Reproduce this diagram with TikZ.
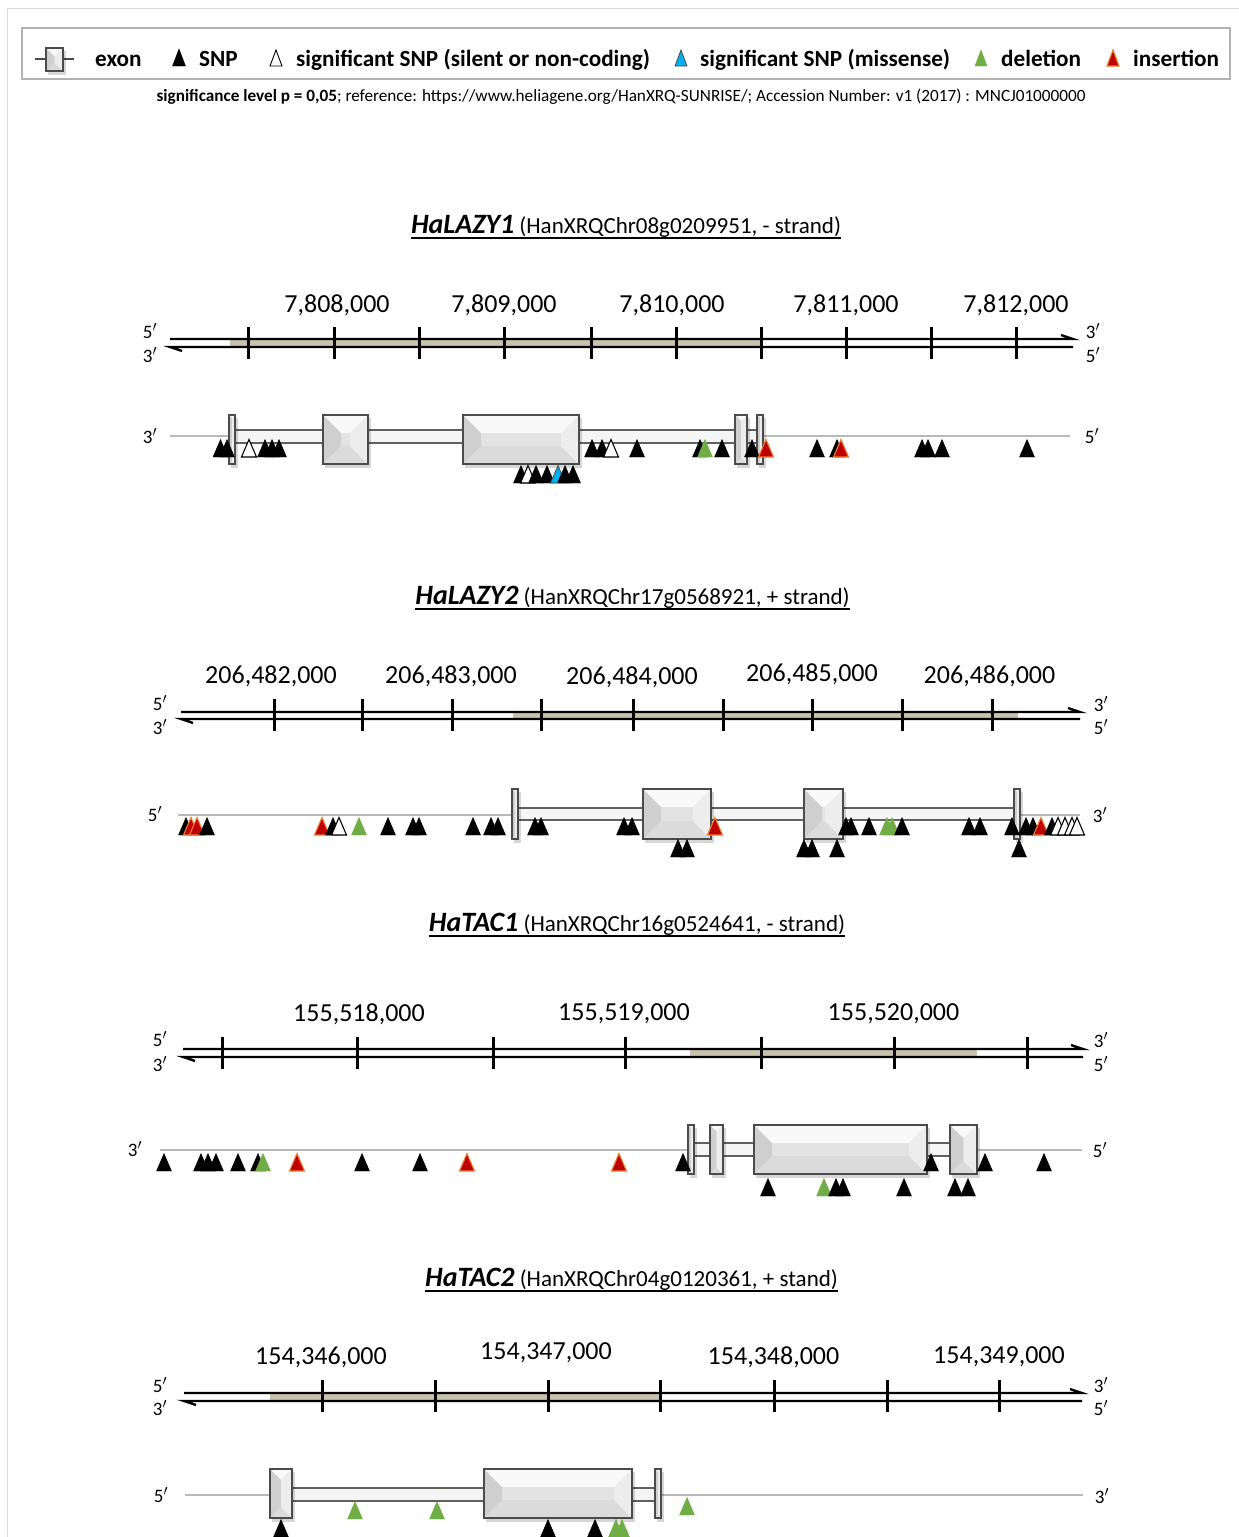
\documentclass[tikz,border=0pt]{standalone}
\usepackage{fontspec}
\setmainfont{Carlito}
\usetikzlibrary{calc}

\definecolor{beige}{RGB}{200,195,172}
\definecolor{delgreen}{RGB}{112,173,71}
\definecolor{insred}{RGB}{192,0,0}
\definecolor{insedge}{RGB}{237,125,49}
\definecolor{misblue}{RGB}{0,176,240}
\definecolor{exedge}{RGB}{75,75,75}

% one variant marker: centre x, base y, style
\newcommand\mutmark[3]{\filldraw[#3] ({#1-7.5},#2) -- ({#1+7.5},#2) -- (#1,{#2-17.5}) -- cycle;}

% bevelled exon box: x1 x2 ytop ybottom
\newcommand\exonbox[4]{%
  \pgfmathsetmacro\bv{min(18,(#2-#1)/2,(#4-#3)/2)}%
  \fill[black,opacity=0.16] ({#1+2},{#3+3}) rectangle ({#2+2.5},{#4+3.5});
  \fill[exmid] (#1,#3) rectangle (#2,#4);
  \fill[extop] (#1,#3) -- (#2,#3) -- ({#2-\bv},{#3+\bv}) -- ({#1+\bv},{#3+\bv}) -- cycle;
  \fill[exleft] (#1,#3) -- ({#1+\bv},{#3+\bv}) -- ({#1+\bv},{#4-\bv}) -- (#1,#4) -- cycle;
  \fill[exbot] (#1,#4) -- ({#1+\bv},{#4-\bv}) -- ({#2-\bv},{#4-\bv}) -- (#2,#4) -- cycle;
  \fill[exright] (#2,#3) -- ({#2-\bv},{#3+\bv}) -- ({#2-\bv},{#4-\bv}) -- (#2,#4) -- cycle;
  \draw[exline] (#1,#3) rectangle (#2,#4);
}

% double strand with harpoon ends: xl xr ytop ybottom beige-from beige-to
\newcommand\dnabar[6]{%
  \fill[beige] (#5,#3) rectangle (#6,#4);
  \draw[strand] (#1,#3) -- (#2,#3) -- ({#2-12},{#3-4});
  \draw[strand] (#2,#4) -- (#1,#4) -- ({#1+12},{#4+4});
}

\begin{document}
\begin{tikzpicture}[x=1pt,y=-1pt,
  snpB/.style={fill=black,draw=black,line width=0.4pt},
  snpW/.style={fill=white,draw=black,line width=1.1pt},
  snpG/.style={fill=delgreen,draw=delgreen,line width=0.4pt},
  snpR/.style={fill=insred,draw=insedge,line width=1.1pt},
  snpBl/.style={fill=misblue,draw=black!70,line width=0.8pt},
  exmid/.style={fill=gray!22},
  extop/.style={fill=gray!5},
  exleft/.style={fill=gray!38},
  exbot/.style={fill=gray!28},
  exright/.style={fill=gray!14},
  exline/.style={draw=exedge,line width=1.5pt},
  intron/.style={fill=gray!8,draw=gray!75!black,line width=1.1pt},
  backbone/.style={draw=gray!55,line width=1.3pt},
  strand/.style={draw=black,line width=2.3pt},
  tick/.style={draw=black,line width=3pt},
  num/.style={inner sep=0,font=\fontsize{26}{30}\selectfont},
  endlbl/.style={inner sep=0,font=\fontsize{19}{22}\selectfont},
  legtxt/.style={inner sep=0,anchor=base west,font=\fontsize{23.2}{26}\selectfont\bfseries},
  title/.style={inner sep=0,anchor=base},
  uline/.style={draw=black,line width=1.3pt}
]
\useasboundingbox (0,0) rectangle (1239,1537);
\clip (0,0) rectangle (1239,1537);

% page edges
\draw[gray!30,line width=1pt] (7,1537) -- (7,8) -- (1239,8);

% ---------------- legend ----------------
\draw[gray!60,line width=1.2pt] (22,28) rectangle (1230,79);
\draw[exedge,line width=1.2pt] (35,59) -- (74,59);
\exonbox{46}{63}{48}{71}
\filldraw[snpB] (172.5,66) -- (185.5,66) -- (179,49) -- cycle;
\node[legtxt] (lexon) at (95,66) {exon};
\node[legtxt] (lsnp) at (199,66) {SNP};
\filldraw[snpW,line width=0.9pt] (270,66) -- (282,66) -- (276,50) -- cycle;
\node[legtxt] (lsig) at (296,66) {significant SNP (silent or non-coding)};
\filldraw[snpBl] (675,66) -- (687,66) -- (681,50) -- cycle;
\node[legtxt] (lmis) at (700,66) {significant SNP (missense)};
\filldraw[snpG] (975,66) -- (987,66) -- (981,50) -- cycle;
\node[legtxt] (ldel) at (1001,66) {deletion};
\filldraw[snpR] (1107,66) -- (1119,66) -- (1113,50) -- cycle;
\node[legtxt] (lins) at (1133,66) {insertion};
\node[inner sep=0,anchor=base,font=\fontsize{17.2}{20}\selectfont] (sig) at (621,101)
  {\textbf{significance level p = 0,05}; reference: https://www.heliagene.org/HanXRQ-SUNRISE/; Accession Number: v1 (2017) : MNCJ01000000};

% ---------------- HaLAZY1 ----------------
\node[title] (t1) at (626,233) {\fontsize{28}{30}\selectfont\bfseries\itshape HaLAZY1\fontsize{23}{26}\selectfont\mdseries\upshape\ (HanXRQChr08g0209951, - strand)};
\draw[uline] ([yshift=-5pt]t1.base west) -- ([yshift=-5pt]t1.base east);

\dnabar{170}{1073}{339}{347}{230}{761}
\foreach \t in {248,334,419,504,591,676,761,846,931,1016} {\draw[tick] (\t,327) -- (\t,359);}
\foreach \x/\v [count=\i] in {337/{7,808,000},504/{7,809,000},672/{7,810,000},846/{7,811,000},1016/{7,812,000}}
  {\node[num] (a\i) at (\x,305) {\v};}
\node[endlbl] (a5l) at (150,331) {5$'$};
\node[endlbl] (a3l) at (150,355) {3$'$};
\node[endlbl] (a3r) at (1093,331) {3$'$};
\node[endlbl] (a5r) at (1093,355) {5$'$};

\draw[backbone] (170,436) -- (1070,436);
\node[endlbl] (g1l) at (150,436) {3$'$};
\node[endlbl] (g1r) at (1092,436) {5$'$};
\filldraw[intron] (235,430) rectangle (757,443);
\exonbox{229}{235}{415}{464}
\exonbox{323}{368}{415}{464}
\exonbox{463}{579}{415}{464}
\exonbox{735}{747}{415}{464}
\exonbox{757}{763}{415}{464}
\foreach \x/\s in {220.5/snpB,227/snpB,249/snpW,265/snpB,272/snpB,279/snpB,592/snpB,602/snpB,611/snpW,637/snpB,700/snpB,705/snpG,722/snpB,752/snpB,766/snpR,817/snpB,837/snpB,841/snpR,922/snpB,928/snpB,942/snpB,1027/snpB}
  {\mutmark{\x}{457}{\s}}
\foreach \x/\s in {521/snpB,528/snpW,536/snpB,547/snpB,558/snpBl,565/snpB,573/snpB}
  {\mutmark{\x}{483}{\s}}

% ---------------- HaLAZY2 ----------------
\node[title] (t2) at (632.5,604) {\fontsize{28}{30}\selectfont\bfseries\itshape HaLAZY2\fontsize{23}{26}\selectfont\mdseries\upshape\ (HanXRQChr17g0568921, + strand)};
\draw[uline] ([yshift=-5pt]t2.base west) -- ([yshift=-5pt]t2.base east);

\dnabar{181}{1080}{712}{719}{513}{1018}
\foreach \t in {274,362,452,541,633,723,812,902,992} {\draw[tick] (\t,699) -- (\t,731);}
\foreach \x/\y/\v [count=\i] in {271/676/{206,482,000},451/676/{206,483,000},632/677/{206,484,000},812/674/{206,485,000},989.5/676/{206,486,000}}
  {\node[num] (b\i) at (\x,\y) {\v};}
\node[endlbl] (b5l) at (160,703) {5$'$};
\node[endlbl] (b3l) at (160,727) {3$'$};
\node[endlbl] (b3r) at (1101,704) {3$'$};
\node[endlbl] (b5r) at (1101,727) {5$'$};

\draw[backbone] (178,815) -- (1080,815);
\node[endlbl] (g2l) at (155,814) {5$'$};
\node[endlbl] (g2r) at (1100,815) {3$'$};
\filldraw[intron] (518,808) rectangle (1014,820);
\exonbox{512}{518}{789}{839}
\exonbox{643}{711}{789}{839}
\exonbox{804}{843}{789}{839}
\exonbox{1014}{1020}{789}{839}
\foreach \x/\s in {186/snpB,191/snpR,197/snpR,207/snpB,322/snpR,333/snpB,339/snpW,359/snpG,388/snpB,413/snpB,419/snpB,473/snpB,491/snpB,498/snpB,535/snpB,541/snpB,624/snpB,632/snpB,715/snpR,846/snpB,851/snpB,869/snpB,887/snpG,892/snpG,902/snpB,969/snpB,980/snpB,1012/snpB,1026/snpB,1033/snpB,1041/snpR,1052/snpB,1058/snpW,1065/snpW,1072/snpW,1077/snpW}
  {\mutmark{\x}{835}{\s}}
\foreach \x/\s in {678/snpB,687/snpB,804/snpB,812/snpB,837/snpB,1019/snpB}
  {\mutmark{\x}{857}{\s}}

% ---------------- HaTAC1 ----------------
\node[title] (t3) at (637,931) {\fontsize{28}{30}\selectfont\bfseries\itshape HaTAC1\fontsize{23}{26}\selectfont\mdseries\upshape\ (HanXRQChr16g0524641, - strand)};
\draw[uline] ([yshift=-5pt]t3.base west) -- ([yshift=-5pt]t3.base east);

\dnabar{183}{1083}{1049}{1057}{690}{977}
\foreach \t in {222,357,493,625,761,894,1027} {\draw[tick] (\t,1037) -- (\t,1069);}
\foreach \x/\v [count=\i] in {359/{155,518,000},624/{155,519,000},893.5/{155,520,000}}
  {\node[num] (c\i) at (\x,1014) {\v};}
\node[endlbl] (c5l) at (160,1039) {5$'$};
\node[endlbl] (c3l) at (160,1064) {3$'$};
\node[endlbl] (c3r) at (1101,1040) {3$'$};
\node[endlbl] (c5r) at (1101,1064) {5$'$};

\draw[backbone] (160,1150) -- (1082,1150);
\node[endlbl] (g3l) at (135,1149) {3$'$};
\node[endlbl] (g3r) at (1100,1150) {5$'$};
\filldraw[intron] (694,1143) rectangle (950,1156);
\exonbox{688}{694}{1125}{1174}
\exonbox{710}{723}{1125}{1174}
\exonbox{754}{927}{1125}{1174}
\exonbox{950}{977}{1125}{1174}
\foreach \x/\s in {164/snpB,201/snpB,208/snpB,216/snpB,238/snpB,258/snpB,263/snpG,297/snpR,362/snpB,420/snpB,467/snpR,619/snpR,683/snpB,931/snpB,985/snpB,1044/snpB}
  {\mutmark{\x}{1171}{\s}}
\foreach \x/\s in {768/snpB,824/snpG,836/snpB,843/snpB,904/snpB,955/snpB,968/snpB}
  {\mutmark{\x}{1196}{\s}}

% ---------------- HaTAC2 ----------------
\node[title] (t4) at (631.5,1286) {\fontsize{28}{30}\selectfont\bfseries\itshape HaTAC2\fontsize{23}{26}\selectfont\mdseries\upshape\ (HanXRQChr04g0120361, + stand)};
\draw[uline] ([yshift=-5pt]t4.base west) -- ([yshift=-5pt]t4.base east);

\dnabar{184}{1082}{1393}{1401}{270}{659}
\foreach \t in {322,435,548,660,774,887,999} {\draw[tick] (\t,1380) -- (\t,1412);}
\foreach \x/\y/\v [count=\i] in {321/1357/{154,346,000},546/1353/{154,347,000},773.5/1357/{154,348,000},999/1357/{154,349,000}}
  {\node[num] (d\i) at (\x,\y) {\v};}
\node[endlbl] (d5l) at (160,1385) {5$'$};
\node[endlbl] (d3l) at (160,1408) {3$'$};
\node[endlbl] (d3r) at (1101,1385) {3$'$};
\node[endlbl] (d5r) at (1101,1408) {5$'$};

\draw[backbone] (185,1495) -- (1083,1495);
\node[endlbl] (g4l) at (161,1495) {5$'$};
\node[endlbl] (g4r) at (1102,1496) {3$'$};
\filldraw[intron] (292,1488) rectangle (655,1501);
\exonbox{270}{292}{1469}{1518}
\exonbox{484}{632}{1469}{1518}
\exonbox{655}{661}{1469}{1518}
\foreach \x/\s in {355/snpG,437/snpG}
  {\mutmark{\x}{1519}{\s}}
\mutmark{687}{1515}{snpG}
\foreach \x/\s in {281/snpB,548/snpB,595/snpB,616/snpG,622/snpG}
  {\mutmark{\x}{1537}{\s}}
\end{tikzpicture}
\end{document}
